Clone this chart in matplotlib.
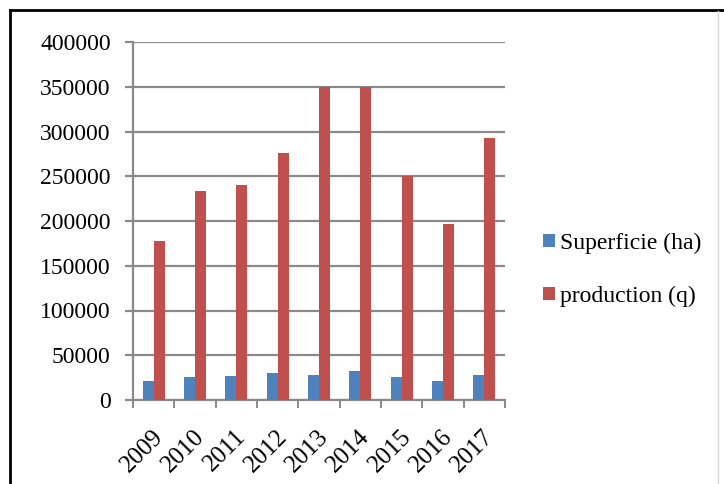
import matplotlib.pyplot as plt
import matplotlib.transforms as mtransforms
from matplotlib.lines import Line2D
import numpy as np

plt.rcParams['font.family'] = ['Liberation Serif', 'DejaVu Serif']

years = ['2009', '2010', '2011', '2012', '2013', '2014', '2015', '2016', '2017']
superficie = [21500, 25300, 27200, 30200, 28300, 32800, 25300, 21200, 27900]
production = [178000, 234000, 240000, 276000, 350000, 350000, 250000, 197000, 293000]

BLUE = '#4F81BD'
RED = '#C0504D'
GRID = '#8a8a8a'

W, H = 724, 484
fig = plt.figure(figsize=(W / 100, H / 100), dpi=100)
ax = fig.add_axes([133 / W, 1 - 400 / H, 372 / W, 358 / H])

x = np.arange(len(years))
w = 0.27
ax.bar(x - w / 2, superficie, w, color=BLUE, label='Superficie (ha)', zorder=3)
ax.bar(x + w / 2, production, w, color=RED, label='production (q)', zorder=3)

ax.set_xlim(-0.5, len(years) - 0.5)
ax.set_ylim(0, 400000)
ax.set_yticks(np.arange(0, 400001, 50000))
ax.yaxis.grid(True, color=GRID, lw=1.6)
ax.set_axisbelow(True)

for side in ('top', 'right'):
    ax.spines[side].set_visible(False)
for side in ('left', 'bottom'):
    ax.spines[side].set_color(GRID)
    ax.spines[side].set_linewidth(1.6)

ax.tick_params(axis='y', length=6, width=1.6, color=GRID, pad=10, labelsize=17)

# category separators on the x axis, labels sit at the centres
ax.set_xticks(np.arange(-0.5, len(years), 1), minor=True)
ax.tick_params(axis='x', which='minor', length=6, width=1.4, color=GRID)
ax.set_xticks(x)
ax.set_xticklabels(years, rotation=45, ha='right', va='center',
                   rotation_mode='anchor', fontsize=18)
ax.tick_params(axis='x', which='major', length=0, pad=24)
shift = mtransforms.ScaledTranslation(6 / 100, 0, fig.dpi_scale_trans)
for lbl in ax.get_xticklabels():
    lbl.set_transform(lbl.get_transform() + shift)

ax.legend(loc='center left', bbox_to_anchor=(543 / W, 1 - 270 / H),
          bbox_transform=fig.transFigure, frameon=False, fontsize=17,
          handlelength=0.5, handleheight=0.5, handletextpad=0.2,
          labelspacing=1.35, borderpad=0, borderaxespad=0)

# outer frame
fig.add_artist(Line2D([9.5 / W, 9.5 / W], [0, 1 - 10 / H], color='black', lw=2))
fig.add_artist(Line2D([9.5 / W, 1], [1 - 10 / H, 1 - 10 / H], color='black', lw=2))
fig.add_artist(Line2D([718 / W, 718 / W], [0, 1 - 11 / H], color='#d8d8d8', lw=1))

fig.savefig('out.png', dpi=100)
